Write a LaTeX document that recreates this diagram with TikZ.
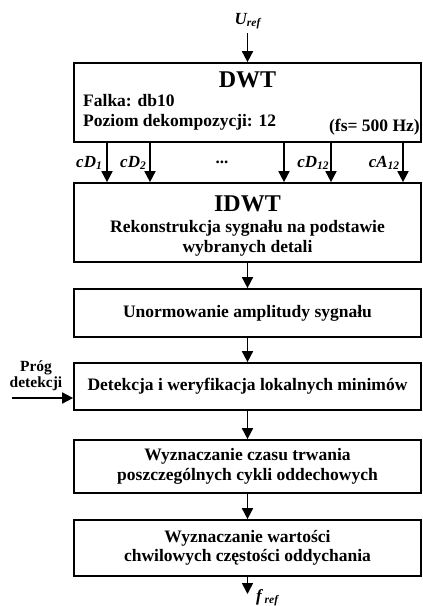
\documentclass[tikz,border=0pt]{standalone}
\usepackage{fontspec}
\setmainfont{Liberation Serif}
\usetikzlibrary{arrows.meta}
\newcommand\myfs[2]{\fontsize{#1}{#2}\selectfont\bfseries}
\newcommand\mysub[1]{\raisebox{-0.25ex}{\fontsize{11.5}{12}\selectfont #1}}
\begin{document}
\begin{tikzpicture}[x=1pt,y=-1pt,
  box/.style={draw, line width=1.7pt, minimum width=347pt, inner sep=0pt, align=center, font=\myfs{17.5}{19.5}},
  ttl/.style={font=\myfs{24}{26}},
  txt/.style={font=\myfs{17.5}{19.5}, inner sep=0pt},
  lbl/.style={font=\myfs{17}{19}\itshape, inner sep=0pt},
  arr/.style={line width=1.7pt, -{Triangle[length=11pt,width=11pt]}}]
\useasboundingbox (0,0) rectangle (423,606);
% boxes
\node[box, minimum height=79pt] (dwt) at (247.5,102.5) {};
\node[box, minimum height=79pt] (idwt) at (247.5,222.5) {};
\node[box, minimum height=48pt] (unorm) at (247.5,313) {Unormowanie amplitudy sygnału};
\node[box, minimum height=47pt] (det) at (247.5,386.5) {Detekcja i weryfikacja lokalnych minimów};
\node[box, minimum height=53pt] (czas) at (247.5,466.5) {Wyznaczanie czasu trwania\\poszczególnych cykli oddechowych};
\node[box, minimum height=56pt] (wart) at (247.5,548) {Wyznaczanie wartości\\chwilowych częstości oddychania};
% DWT texts
\node[ttl] (dwtt) at (247.5,80) {DWT};
\node[txt, anchor=west, align=left] (falka) at (83,112.5) {Falka: db10\\Poziom dekompozycji: 12};
\node[txt, anchor=east] (fs) at (420,127) {(fs= 500 Hz)};
% IDWT texts
\node[ttl] (idwtt) at (247.5,204) {IDWT};
\node[txt, align=center] (rek) at (247.5,238.5) {Rekonstrukcja sygnału na podstawie\\wybranych detali};
% input
\node[lbl] (uref) at (247.5,21) {U\mysub{ref}};
\coordinate (ustart) at (247.5,33);
\draw[arr] (ustart) -- (dwt.north);
% coefficient arrows
\coordinate (a1) at (107,0);
\coordinate (a2) at (150,0);
\coordinate (a3) at (284,0);
\coordinate (a4) at (331,0);
\coordinate (a5) at (403,0);
\foreach \a in {a1,a2,a3,a4,a5}{
  \draw[arr] (dwt.south -| \a) -- (idwt.north -| \a);
}
\node[lbl] (l1) at (89,163) {cD\mysub{1}};
\node[lbl] (l2) at (133,163) {cD\mysub{2}};
\node[font=\myfs{17}{19}] (l3) at (222,162) {...};
\node[lbl] (l4) at (313,163) {cD\mysub{12}};
\node[lbl] (l5) at (384,163) {cA\mysub{12}};
% chain
\draw[arr] (idwt) -- (unorm);
\draw[arr] (unorm) -- (det);
\draw[arr] (det) -- (czas);
\draw[arr] (czas) -- (wart);
% threshold
\node[font=\myfs{15.5}{16.5}, align=center, inner sep=0pt] (prog) at (36,376) {Próg\\detekcji};
\coordinate (pin) at (12,398);
\draw[arr] (pin) -- (det.west |- pin);
% output
\coordinate (fend) at (247.5,594);
\draw[arr] (wart) -- (fend);
\node[lbl, anchor=west] (fref) at (256,598) {f\,\mysub{ref}};
\end{tikzpicture}
\end{document}
